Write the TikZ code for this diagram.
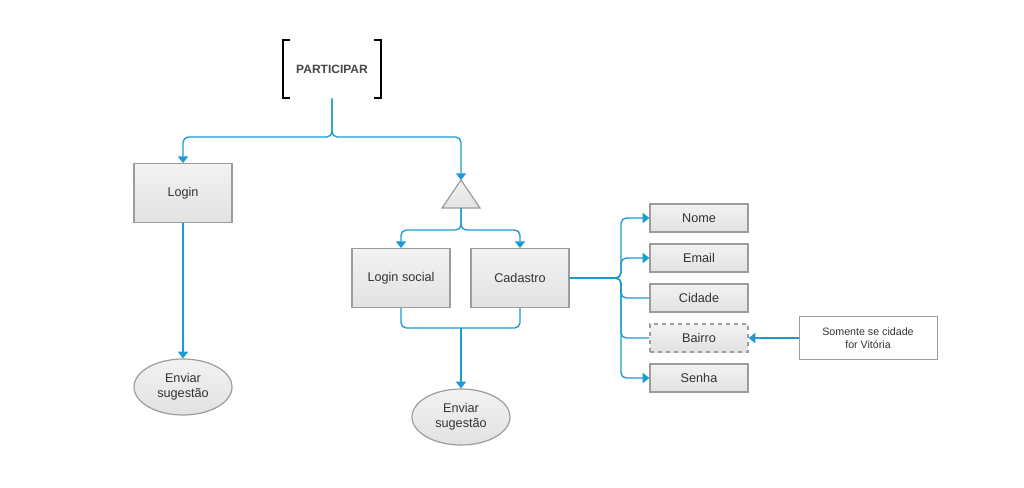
\documentclass[tikz,border=0pt]{standalone}
\usepackage{fontspec}
\setmainfont{Liberation Sans}
\usetikzlibrary{shapes.geometric, arrows.meta, positioning}
\definecolor{flowblue}{HTML}{1B9BD1}
\definecolor{boxline}{HTML}{9C9C9C}
\definecolor{boxtext}{HTML}{333333}
\definecolor{boxtop}{HTML}{F2F2F2}
\definecolor{boxbot}{HTML}{E2E2E2}

\begin{document}
\begin{tikzpicture}[
        x=0.75pt, y=-0.75pt,
        box/.style={draw=boxline, line width=0.9pt, top color=boxtop, bottom color=boxbot, minimum width=73.5pt, minimum height=44pt, inner sep=0pt, font=\fontsize{9.5}{11}\selectfont, text=boxtext},
        field/.style={box, minimum height=21pt},
        endpoint/.style={ellipse, draw=boxline, line width=0.9pt, top color=boxtop, bottom color=boxbot, minimum width=73.5pt, minimum height=42pt, inner sep=0pt, align=center, font=\fontsize{9.5}{11}\selectfont, text=boxtext},
        note/.style={draw=boxline, line width=0.7pt, fill=white, minimum width=103.5pt, minimum height=32pt, inner sep=0pt, align=center, font=\fontsize{8}{10}\selectfont, text=boxtext},
        flow/.style={draw=flowblue, line width=1pt, rounded corners=4pt},
        >={Triangle[width=7.5pt,length=5pt]}
    ]
        \useasboundingbox[fill=white] (0,0) rectangle (1024,487);

        % Root
        \node[minimum width=73pt, minimum height=43.5pt, font=\fontsize{9}{11}\selectfont\bfseries, text=boxtext!90] (part) at (332,69) {PARTICIPAR};
        \draw[line width=1.4pt] ([xshift=5pt]part.north west) -- (part.north west) -- (part.south west) -- ([xshift=5pt]part.south west);
        \draw[line width=1.4pt] ([xshift=-5pt]part.north east) -- (part.north east) -- (part.south east) -- ([xshift=-5pt]part.south east);

        % Nodes
        \node[box] (login) at (183,193) {Login};
        \node[endpoint] (send1) at (183,387) {Enviar\\sugestão};
        \draw[draw=boxline, line width=0.9pt, top color=boxtop, bottom color=boxbot] (461,180) -- (480,208) -- (442,208) -- cycle;
        \coordinate (tritop) at (461,180);
        \coordinate (tribot) at (461,208);
        \node[box] (social) at (401,278) {Login social};
        \node[box] (cad) at (520,278) {Cadastro};
        \node[endpoint] (send2) at (461,417) {Enviar\\sugestão};

        % Fields
        \node[field] (nome) at (699,218) {Nome};
        \node[field] (email) at (699,258) {Email};
        \node[field] (cidade) at (699,298) {Cidade};
        \node[field, dashed] (bairro) at (699,338) {Bairro};
        \node[field] (senha) at (699,378) {Senha};
        \node[note] (cond) at (868,338) {Somente se cidade\\for Vitória};

        % Junctions
        \coordinate (j1) at (332,137);
        \coordinate (j2) at (461,230);
        \coordinate (j3) at (461,328);
        \coordinate (j4) at (621,278);

        % Arrows
        \draw[flow, ->] (part.south) -- (j1) -| (login.north);
        \draw[flow, ->] (part.south) -- (j1) -| (tritop);
        \draw[flow, ->] (login.south) -- (send1.north);
        \draw[flow, ->] (tribot) -- (j2) -| (social.north);
        \draw[flow, ->] (tribot) -- (j2) -| (cad.north);
        \draw[flow] (social.south) |- (j3);
        \draw[flow] (cad.south) |- (j3);
        \draw[flow, ->] (j3) -- (send2.north);
        \draw[flow, ->] (cad.east) -- (j4) |- (nome.west);
        \draw[flow, ->] (cad.east) -- (j4) |- (email.west);
        \draw[flow] (cad.east) -- (j4) |- (cidade.west);
        \draw[flow] (cad.east) -- (j4) |- (bairro.west);
        \draw[flow, ->] (cad.east) -- (j4) |- (senha.west);
        \draw[flow, ->] (cond.west) -- (bairro.east);
    \end{tikzpicture}
\end{document}
